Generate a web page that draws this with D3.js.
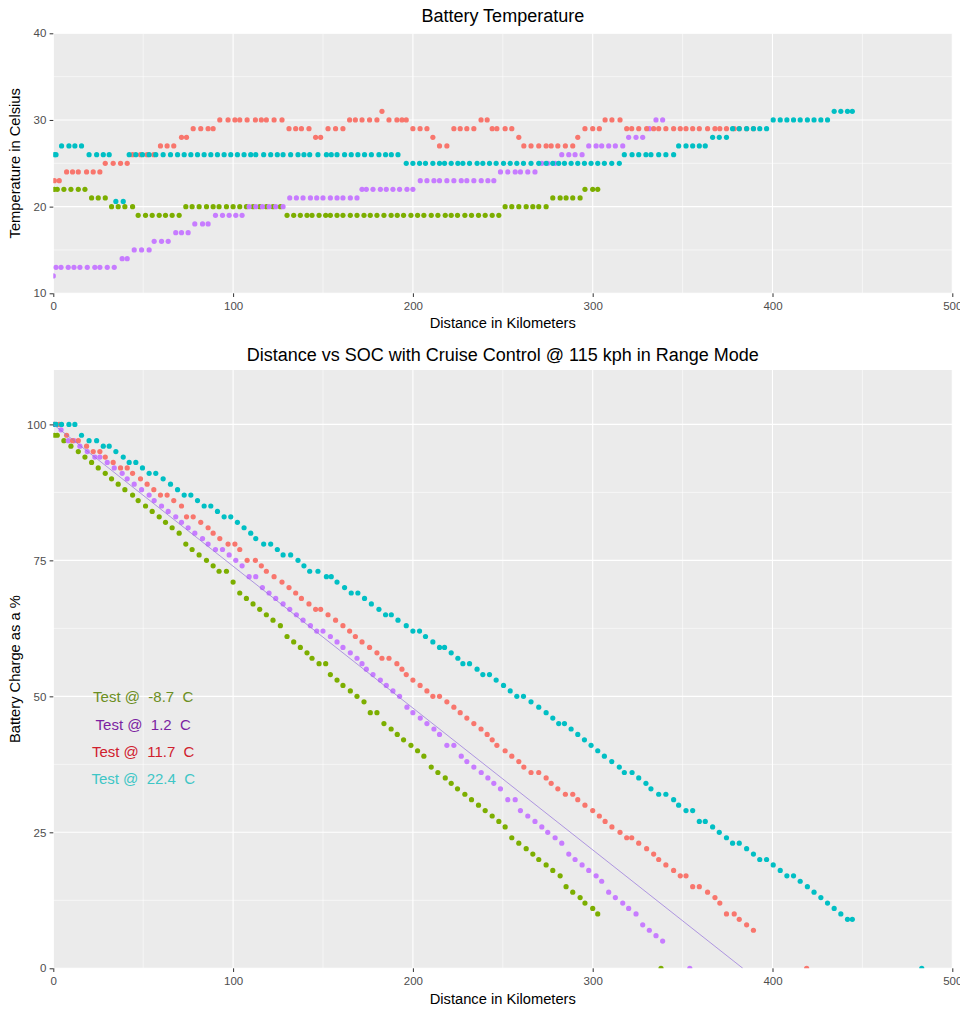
<!DOCTYPE html>
<html>
<head>
<meta charset="utf-8">
<script src="https://cdn.jsdelivr.net/npm/d3@7"></script>
<style>
  body { margin: 0; background: #ffffff; }
  svg { font-family: "Liberation Sans", Arial, sans-serif; }
</style>
</head>
<body>
<svg id="chart" width="960" height="1014"></svg>
<script>
// ---- data: distance (km), state of charge (%) and battery temperature (C) per test ----
const kmGreen = [0.6, 2.2, 5.9, 9.8, 13.9, 17.6, 21.3, 25, 28.9, 32.4, 36.1, 39.8, 44.1, 47.2, 51.3, 55, 58.9, 62.4, 66.1, 70,
  73.7, 77.2, 81.1, 85.2, 88.9, 92.2, 96.3, 100, 103.7, 107.4, 111.1, 114.8, 118.5, 122.2, 126.3,
  130, 133.7, 137.4, 141.1, 143.9, 147.8, 151.5, 154.1, 157.8, 161.1, 165.2, 168.9, 172.8, 176.3, 180, 183.9, 187.9, 191.3,
  194.8, 198.9, 202.6, 206.1, 210.2, 213.9, 218, 221.3, 224.8, 228.9, 232.6, 236.5, 240.2, 244.1, 247.8,
  251.3, 255, 258.9, 263, 266.7, 270, 274.1, 277.8, 281.9, 285.2, 288.9, 293, 295.7, 300, 302.8];
const socGreen = [98, 98, 97, 96, 95, 94, 93, 92, 91, 90, 89, 88, 87, 86, 85, 84, 83, 82, 81, 80,
  78, 77, 76, 75, 74, 73, 73, 71, 69, 68, 67, 66, 65, 64, 63,
  61, 60, 59, 58, 57, 56, 56, 54, 53, 52, 51, 50, 49, 47, 47, 45, 44, 43,
  42, 41, 40, 39, 37, 36, 35, 34, 33, 32, 31, 30, 29, 28, 27,
  26, 24, 23, 22, 21, 20, 19, 18, 17, 15, 14, 13, 12, 11, 10];
const tempGreen = [22, 22, 22, 22, 22, 22, 21, 21, 21, 20, 20, 20, 20, 19, 19, 19, 19, 19, 19, 19,
  20, 20, 20, 20, 20, 20, 20, 20, 20, 20, 20, 20, 20, 20, 20,
  19, 19, 19, 19, 19, 19, 19, 19, 19, 19, 19, 19, 19, 19, 19, 19, 19, 19,
  19, 19, 19, 19, 19, 19, 19, 19, 19, 19, 19, 19, 19, 19, 19,
  20, 20, 20, 20, 20, 20, 20, 21, 21, 21, 21, 21, 22, 22, 22];

const kmPurple = [0, 1.5, 4.3, 8.3, 11.5, 14.8, 18.9, 23.1, 25.9, 30, 33.9, 38.3, 41.1, 45, 49.1, 53.3, 56.1, 60.2, 63.9,
  68.1, 71.3, 75, 78.7, 83, 86.1, 90.2, 94.1, 97.8, 101.5, 105, 108.9, 112.6, 116.3, 120, 123.7, 127.8,
  131.5, 135.2, 138.9, 143, 146.5, 150, 154.1, 157.8, 161.1, 165.2, 168.9, 171.7, 174.1, 177.8, 181.9, 185.2, 188.9,
  192.6, 196.7, 200, 204.1, 207.8, 211.7, 214.8, 218.9, 222.8, 226.9, 230, 233.9, 238, 241.7, 245,
  248.7, 252.8, 256.9, 259.8, 263.9, 267.9, 271.7, 275, 279.1, 282.8, 286.7, 290.2, 294.1,
  297.8, 301.9, 305, 308.9, 312.6, 316.7, 320, 324.1, 327.8, 331.5, 335.2, 338.9];
const socPurple = [100, 100, 99, 97, 97, 96, 95, 94, 94, 93, 92, 91, 90, 89, 88, 87, 86, 85, 84,
  83, 82, 81, 80, 79, 78, 77, 77, 76, 75, 74, 72, 72, 70, 69, 68, 67,
  66, 65, 64, 63, 62, 62, 61, 60, 59, 58, 57, 56, 55, 54, 53, 52, 51,
  50, 48, 47, 46, 45, 44, 43, 41, 41, 39, 38, 37, 36, 35, 34,
  33, 31, 31, 29, 28, 27, 26, 25, 24, 23, 21, 20, 19,
  18, 17, 16, 14, 13, 12, 11, 10, 8, 7, 6, 5];
const tempPurple = [12, 13, 13, 13, 13, 13, 13, 13, 13, 13, 13, 14, 14, 15, 15, 15, 16, 16, 16,
  17, 17, 17, 18, 18, 18, 19, 19, 19, 19, 19, 20, 20, 20, 20, 20, 20,
  21, 21, 21, 21, 21, 21, 21, 21, 21, 21, 21, 22, 22, 22, 22, 22, 22,
  22, 22, 22, 23, 23, 23, 23, 23, 23, 23, 23, 23, 23, 23, 23,
  24, 24, 24, 24, 24, 24, 25, 25, 25, 26, 26, 26, 26,
  27, 27, 27, 27, 27, 27, 28, 28, 28, 29, 30, 30];

const kmRed = [0.6, 3.3, 7.4, 10.7, 13.9, 18.5, 22.2, 25.9, 28.9, 33.3, 37.4, 41.1, 44.1, 48.5, 52.2, 55.9, 59.6, 63.3, 67,
  71.3, 74.1, 77.8, 82, 86.1, 88.9, 92.6, 97.2, 101, 103.7, 107.8, 112.4, 115.7, 118.5, 122.8, 127.2,
  131.1, 134.8, 138, 142.2, 145.9, 148.7, 152.8, 157, 161.1, 164.8, 168, 171.7, 175.9, 180, 182.8,
  186.7, 191.1, 193.9, 196.3, 200, 204, 207.8, 211.1, 214.8, 218.9, 222.8, 226.3, 230, 233.9, 237.9, 241.3,
  244.1, 246.7, 251.3, 255, 258.9, 261.7, 265.7, 270, 274.1, 276.9, 280.6, 284.8, 288.9, 291.7,
  295.7, 300, 303.7, 306.9, 310.7, 315.2, 318.9, 321.7, 325.6, 330, 333.9, 336.7, 340.7, 345, 348.7,
  351.9, 355.6, 359.3, 363.9, 368, 370.7, 374.4, 378.7, 381.5, 385.6, 389.4];
const socRed = [100, 100, 98, 97, 97, 96, 95, 95, 94, 93, 92, 92, 91, 90, 89, 88, 87, 87, 86,
  85, 83, 83, 82, 81, 80, 79, 78, 78, 77, 75, 75, 74, 73, 72, 71,
  70, 69, 68, 67, 66, 66, 65, 64, 63, 62, 61, 60, 59, 58, 57,
  57, 56, 55, 54, 53, 52, 51, 50, 50, 49, 48, 47, 46, 45, 44, 43,
  42, 41, 40, 39, 38, 37, 36, 36, 35, 34, 33, 32, 32, 31,
  30, 29, 28, 27, 26, 25, 24, 24, 23, 22, 21, 20, 19, 18, 17,
  17, 15, 15, 14, 13, 12, 10, 10, 9, 8, 7];
const tempRed = [23, 23, 24, 24, 24, 24, 24, 24, 25, 25, 25, 25, 26, 26, 26, 26, 27, 27, 27,
  28, 28, 29, 29, 29, 29, 30, 30, 30, 30, 30, 30, 30, 30, 30, 30,
  29, 29, 29, 29, 28, 28, 29, 29, 29, 30, 30, 30, 30, 30, 31,
  30, 30, 30, 30, 29, 29, 29, 28, 27, 27, 29, 29, 29, 29, 30, 30,
  29, 29, 29, 29, 28, 27, 27, 27, 27, 27, 27, 27, 27, 28,
  29, 29, 29, 30, 30, 30, 29, 29, 29, 29, 29, 29, 29, 29, 29,
  29, 29, 29, 29, 29, 29, 29, 29, 29, 29, 29];

const kmCyan = [0.6, 1.5, 4.6, 8.7, 12, 15.7, 19.9, 24.1, 27.8, 31.1, 34.8, 38.9,
  42.2, 45.9, 49.6, 53.3, 57, 61.1, 65.2, 69.1, 72.8, 76.5, 80.2, 83.9, 87.6, 91.3, 95, 98.7, 102.4, 106.1, 109.8, 112.6,
  117, 120.9, 124.6, 127.8, 132, 136.1, 139.4, 142.6, 147.2, 151.9, 154.6, 157.8, 162, 165.7, 169.4, 173.1, 176.9, 181.1,
  184.8, 188, 191.7, 196.3, 200, 203.7, 207, 211.1, 214.8, 217.6, 221.3, 225, 227.8, 231.5, 235.7, 238.9, 242.6,
  246.3, 250.4, 254.1, 257.8, 261.5, 265.7, 270, 274.1, 277.8, 281.1, 284.3, 288, 291.7, 295.4, 299.1, 302.8,
  306.5, 310.6, 314.8, 317.6, 321.9, 325.6, 329.6, 332.4, 336.7, 340.7, 345, 347.8, 351.9, 355.6, 359.3, 362.6,
  366.7, 370.4, 374.4, 377.8, 381.5, 385.6, 389.4, 392.9, 396.7, 400.4, 404.3, 408, 411.7, 415.4, 419.4, 423.1,
  426.9, 430.6, 434.3, 438, 441.7, 444.4];
const socCyan = [100, 100, 100, 100, 100, 98, 97, 97, 96, 96, 95, 94,
  93, 93, 92, 91, 91, 90, 89, 88, 87, 87, 86, 85, 85, 84, 83, 83, 82, 81, 80, 79,
  78, 78, 77, 76, 76, 75, 74, 73, 73, 72, 72, 71, 70, 69, 69, 68, 67, 66,
  65, 65, 64, 63, 62, 62, 61, 60, 59, 59, 58, 57, 56, 56, 55, 54, 54,
  53, 52, 51, 50, 50, 49, 48, 47, 46, 45, 45, 44, 43, 42, 41, 40,
  39, 38, 37, 36, 36, 35, 34, 33, 32, 32, 31, 30, 29, 29, 27, 27,
  26, 25, 24, 23, 23, 22, 21, 20, 20, 19, 18, 17, 17, 16, 15, 14,
  13, 12, 11, 10, 9, 9];
const tempCyan = [26, 26, 27, 27, 27, 27, 26, 26, 26, 26, 20.6, 20.6,
  26, 26, 26, 26, 26, 26, 26, 26, 26, 26, 26, 26, 26, 26, 26, 26, 26, 26, 26, 26,
  26, 26, 26, 26, 26, 26, 26, 26, 26, 26, 26, 26, 26, 26, 26, 26, 26, 26,
  26, 26, 26, 25, 25, 25, 25, 25, 25, 25, 25, 25, 25, 25, 25, 25, 25,
  25, 25, 25, 25, 25, 25, 25, 25, 25, 25, 25, 25, 25, 25, 25, 25,
  25, 25, 25, 26, 26, 26, 26, 26, 26, 26, 26, 27, 27, 27, 27, 27,
  28, 28, 28, 29, 29, 29, 29, 29, 29, 30, 30, 30, 30, 30, 30, 30,
  30, 30, 31, 31, 31, 31];

// distance at which each test would reach 0 %
const emptyKm = [338, 354, 419, 483];
// straight reference line drawn on the SOC chart
const fitKm = [0, 383.5];
const fitSoc = [100, 0];
// annotation labels
const testTemps = ["-8.7", "1.2", "11.7", "22.4"];
const labelSoc = [50, 45, 40, 35];
const labelKm = 50;

const xTicks = [0, 100, 200, 300, 400, 500];
const xMinor = [50, 150, 250, 350, 450];
const tempTicks = [10, 20, 30, 40];
const tempMinor = [15, 25, 35];
const socTicks = [0, 25, 50, 75, 100];
const socMinor = [12.5, 37.5, 62.5, 87.5];

// ---- series (drawing order: green, purple, red, cyan) ----
const pointColors = ['#7CAE00', '#C77CFF', '#F8766D', '#00BFC4'];
const labelColors = ['#6B8E23', '#7B1FA2', '#D0202E', '#3EC6C6'];
const series = [
  { km: kmGreen, soc: socGreen, temp: tempGreen },
  { km: kmPurple, soc: socPurple, temp: tempPurple },
  { km: kmRed, soc: socRed, temp: tempRed },
  { km: kmCyan, soc: socCyan, temp: tempCyan }
].map((s, i) => ({
  color: pointColors[i],
  empty: emptyKm[i],
  points: s.km.map((k, j) => ({ km: k, soc: s.soc[j], temp: s.temp[j] }))
}));

const svg = d3.select('#chart');
const x = d3.scaleLinear().domain([0, 500]).range([53.3, 952.3]);
const yTemp = d3.scaleLinear().domain([10, 40]).range([293.3, 33.3]);
const ySoc = d3.scaleLinear().domain([0, 110]).range([968.3, 370]);

const defs = svg.append('defs');

function drawPanel(id, y, majorY, minorY) {
  const top = y.range()[1], bottom = y.range()[0];
  const g = svg.append('g').attr('class', 'panel-' + id);

  g.append('rect')
    .attr('x', x.range()[0]).attr('y', top)
    .attr('width', x.range()[1] - x.range()[0]).attr('height', bottom - top)
    .attr('fill', '#EBEBEB');

  defs.append('clipPath').attr('id', 'clip-' + id)
    .append('rect')
    .attr('x', x.range()[0]).attr('y', top)
    .attr('width', x.range()[1] - x.range()[0]).attr('height', bottom - top);

  // minor grid
  g.selectAll('.minor-y').data(minorY).enter().append('line')
    .attr('x1', x.range()[0]).attr('x2', x.range()[1])
    .attr('y1', d => y(d)).attr('y2', d => y(d))
    .attr('stroke', '#ffffff').attr('stroke-width', 0.55);
  g.selectAll('.minor-x').data(xMinor).enter().append('line')
    .attr('y1', top).attr('y2', bottom)
    .attr('x1', d => x(d)).attr('x2', d => x(d))
    .attr('stroke', '#ffffff').attr('stroke-width', 0.55);

  // major grid
  g.selectAll('.major-y').data(majorY).enter().append('line')
    .attr('x1', x.range()[0]).attr('x2', x.range()[1])
    .attr('y1', d => y(d)).attr('y2', d => y(d))
    .attr('stroke', '#ffffff').attr('stroke-width', 1.1);
  g.selectAll('.major-x').data(xTicks).enter().append('line')
    .attr('y1', top).attr('y2', bottom)
    .attr('x1', d => x(d)).attr('x2', d => x(d))
    .attr('stroke', '#ffffff').attr('stroke-width', 1.1);

  // axes
  const xAxis = svg.append('g')
    .attr('transform', `translate(0,${bottom})`)
    .call(d3.axisBottom(x).tickValues(xTicks).tickSize(3.7).tickPadding(4.7).tickFormat(d3.format('d')));
  const yAxis = svg.append('g')
    .attr('transform', `translate(${x.range()[0]},0)`)
    .call(d3.axisLeft(y).tickValues(majorY).tickSize(3.7).tickPadding(3.3).tickFormat(d3.format('d')));
  [xAxis, yAxis].forEach(a => {
    a.attr('font-family', null).attr('font-size', null);
    a.select('.domain').remove();
    a.selectAll('.tick line').attr('stroke', '#333333').attr('stroke-width', 1);
    a.selectAll('.tick text').attr('fill', '#4D4D4D').style('font-size', '11.5px');
  });

  return g.append('g').attr('clip-path', `url(#clip-${id})`);
}

// ---- top chart: temperature ----
const topPlot = drawPanel('temp', yTemp, tempTicks, tempMinor);
series.forEach(s => {
  topPlot.append('g').selectAll('circle').data(s.points).enter().append('circle')
    .attr('cx', d => x(d.km)).attr('cy', d => yTemp(d.temp))
    .attr('r', 2.6).attr('fill', s.color);
});

// ---- bottom chart: SOC ----
const botPlot = drawPanel('soc', ySoc, socTicks, socMinor);
series.forEach(s => {
  const g = botPlot.append('g');
  g.selectAll('circle').data(s.points).enter().append('circle')
    .attr('cx', d => x(d.km)).attr('cy', d => ySoc(d.soc))
    .attr('r', 2.6).attr('fill', s.color);
  g.append('circle')
    .attr('cx', x(s.empty)).attr('cy', ySoc(0))
    .attr('r', 2.6).attr('fill', s.color);
});

botPlot.append('path')
  .datum(fitKm.map((k, i) => [k, fitSoc[i]]))
  .attr('fill', 'none')
  .attr('stroke', '#9370DB')
  .attr('stroke-width', 0.7)
  .attr('d', d3.line().x(d => x(d[0])).y(d => ySoc(d[1])));

botPlot.selectAll('.label').data(testTemps).enter().append('text')
  .attr('x', x(labelKm))
  .attr('y', (d, i) => ySoc(labelSoc[i]))
  .attr('dy', '0.4em')
  .attr('text-anchor', 'middle')
  .attr('xml:space', 'preserve')
  .style('white-space', 'pre')
  .style('font-size', '15px')
  .attr('fill', (d, i) => labelColors[i])
  .text(d => `Test @  ${d}  C`);

// ---- titles ----
const midX = (x.range()[0] + x.range()[1]) / 2;
svg.append('text')
  .attr('x', midX).attr('y', 22)
  .attr('text-anchor', 'middle').style('font-size', '18px').attr('fill', '#000')
  .text('Battery Temperature');
svg.append('text')
  .attr('x', midX).attr('y', 360.5)
  .attr('text-anchor', 'middle').style('font-size', '18px').attr('fill', '#000')
  .text('Distance vs SOC with Cruise Control @ 115 kph in Range Mode');

[327.5, 1003.5].forEach(yy => {
  svg.append('text')
    .attr('x', midX).attr('y', yy)
    .attr('text-anchor', 'middle').style('font-size', '14.7px').attr('fill', '#000')
    .text('Distance in Kilometers');
});

svg.append('text')
  .attr('transform', `translate(20,${(yTemp.range()[0] + yTemp.range()[1]) / 2}) rotate(-90)`)
  .attr('text-anchor', 'middle').style('font-size', '14.7px').attr('fill', '#000')
  .text('Temperature in Celsius');
svg.append('text')
  .attr('transform', `translate(20,${(ySoc.range()[0] + ySoc.range()[1]) / 2}) rotate(-90)`)
  .attr('text-anchor', 'middle').style('font-size', '14.7px').attr('fill', '#000')
  .text('Battery Charge as a %');
</script>
</body>
</html>
